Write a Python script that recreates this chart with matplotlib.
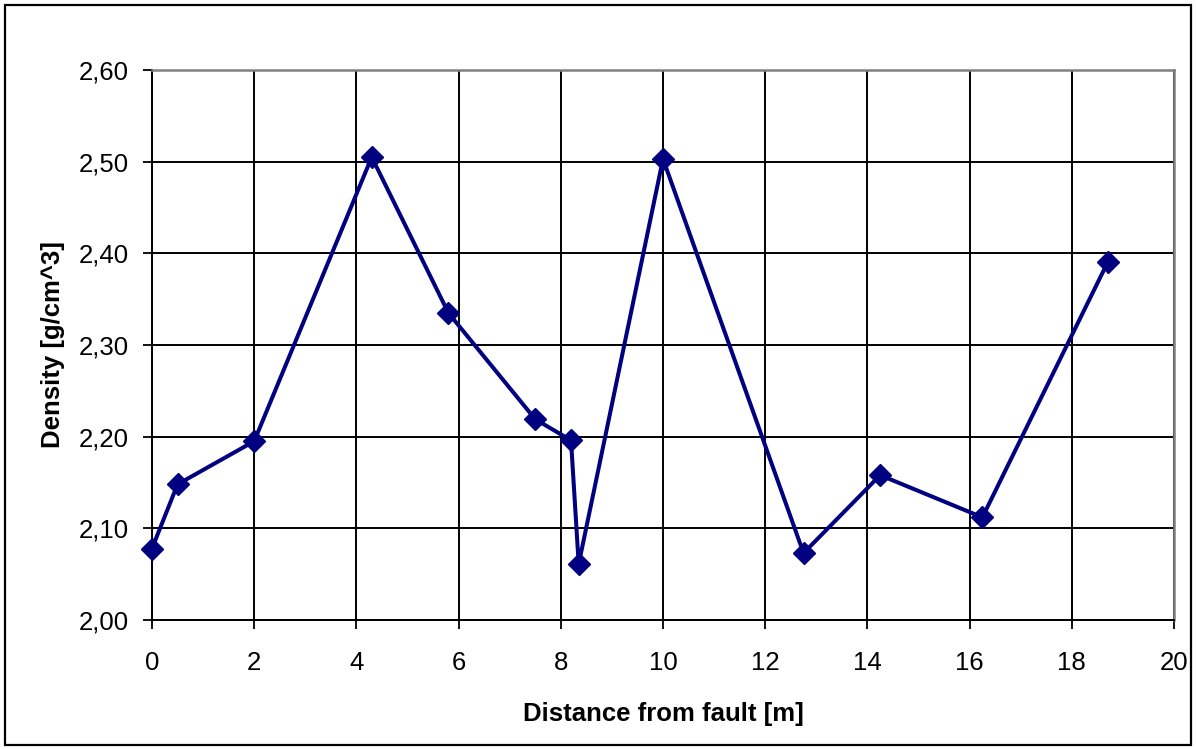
import matplotlib
matplotlib.use("Agg")
import matplotlib.pyplot as plt
from matplotlib.patches import Rectangle
from matplotlib.ticker import FuncFormatter, MultipleLocator

# Measured bulk density along a traverse away from the fault
distance_m = [0.0, 0.5, 2.0, 4.3, 5.8, 7.5, 8.2, 8.35, 10.0, 12.75, 14.25, 16.25, 18.7]
density = [2.078, 2.148, 2.195, 2.505, 2.335, 2.219, 2.196, 2.061, 2.503, 2.073, 2.158, 2.112, 2.390]

x_label = "Distance from fault [m]"
y_label = "Density [g/cm^3]"

plt.rcParams['font.family'] = ['Liberation Sans', 'DejaVu Sans']

fig = plt.figure(figsize=(11.96, 7.49), dpi=100)
ax = fig.add_axes([152 / 1196, 1 - 620 / 749, (1174 - 152) / 1196, (620 - 70) / 749])

# Outer chart frame
fig.patches.append(Rectangle((5 / 1196, 4 / 749), 1186 / 1196, 740 / 749,
                             transform=fig.transFigure, fill=False,
                             edgecolor='black', linewidth=1.6, zorder=0))

ax.plot(distance_m, density, color='#000080', linewidth=2.9,
        marker='D', markersize=11.5, markerfacecolor='#000080',
        markeredgecolor='#000080', zorder=3, clip_on=False)

ax.set_xlim(0, 20)
ax.set_ylim(2.0, 2.6)
ax.xaxis.set_major_locator(MultipleLocator(2))
ax.yaxis.set_major_locator(MultipleLocator(0.1))
ax.yaxis.set_major_formatter(FuncFormatter(lambda v, p: f"{v:.2f}".replace('.', ',')))

ax.grid(True, color='black', linewidth=1.4)
ax.set_axisbelow(True)

for side in ('left', 'bottom'):
    ax.spines[side].set_color('black')
    ax.spines[side].set_linewidth(1.4)
for side in ('top', 'right'):
    ax.spines[side].set_color('#808080')
    ax.spines[side].set_linewidth(1.8)

ax.tick_params(axis='both', direction='out', length=6.5, width=1.3,
               labelsize=18.5, colors='black')
ax.tick_params(axis='y', pad=10)
ax.tick_params(axis='x', pad=16)

ax.set_xlabel(x_label, fontsize=18.5, fontweight='bold', labelpad=19)
ax.set_ylabel(y_label, fontsize=18.5, fontweight='bold', labelpad=10)

fig.savefig("out.png", dpi=100, facecolor='white')
